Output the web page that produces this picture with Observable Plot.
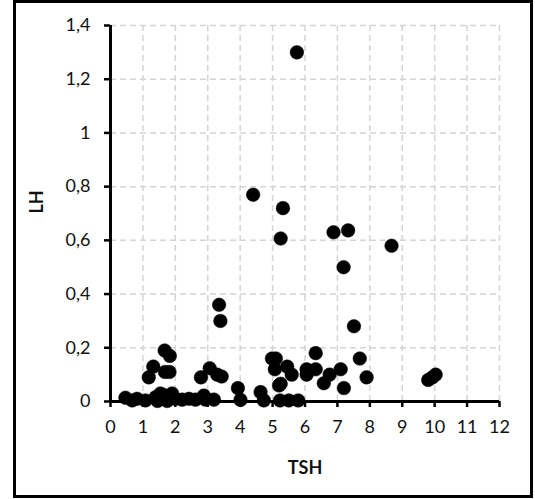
<!DOCTYPE html>
<html>
<head>
<meta charset="utf-8">
<script src="https://cdn.jsdelivr.net/npm/d3@7"></script>
<script src="https://cdn.jsdelivr.net/npm/@observablehq/plot@0.6"></script>
<style>
  html, body { margin: 0; padding: 0; background: #fff; }
  #wrap { position: relative; width: 535px; height: 499px; overflow: hidden; }
  #wrap svg { position: absolute; left: 0; top: 0; }
  #border { position: absolute; left: 13px; top: 0px; width: 514px; height: 492px; border: 3px solid #000; pointer-events: none; }
</style>
</head>
<body>
<div id="wrap"><div id="border"></div></div>
<script>
const tsh = [
  0.46, 0.67, 0.82, 1.08, 1.39, 1.54, 1.70, 1.62, 1.90, 2.00, 2.21, 2.42, 2.62, 2.88, 2.93, 3.19, 1.45, 1.75,
  1.18, 1.32, 1.68, 1.82, 1.67, 1.83, 2.79, 3.06, 3.29, 3.43, 3.35, 3.39,
  3.93, 4.01, 4.63, 4.73, 5.23, 5.50, 5.79,
  4.98, 5.10, 5.07, 5.25, 5.20, 5.45, 5.59, 6.05, 6.05, 6.33, 6.33, 6.58, 6.76, 7.10, 7.20, 7.51, 7.69, 7.90, 9.80, 9.93, 10.03,
  5.75, 4.40, 5.32, 5.25, 6.88, 7.33, 8.67, 7.19
];
const lh = [
  0.014, 0.004, 0.010, 0.004, 0.016, 0.030, 0.012, 0.025, 0.030, 0.010, 0.007, 0.010, 0.007, 0.022, 0.007, 0.007, 0.002, 0.002,
  0.09, 0.13, 0.11, 0.11, 0.19, 0.17, 0.09, 0.124, 0.10, 0.093, 0.36, 0.30,
  0.05, 0.006, 0.035, 0.004, 0.004, 0.004, 0.004,
  0.16, 0.16, 0.12, 0.066, 0.06, 0.13, 0.10, 0.12, 0.10, 0.12, 0.18, 0.068, 0.10, 0.12, 0.05, 0.28, 0.16, 0.09, 0.08, 0.09, 0.10,
  1.30, 0.77, 0.72, 0.607, 0.63, 0.637, 0.58, 0.50
];
const xTicks = [0, 1, 2, 3, 4, 5, 6, 7, 8, 9, 10, 11, 12];
const yTicks = [0, 0.2, 0.4, 0.6, 0.8, 1, 1.2, 1.4];
const yTickLabels = ["0", "0,2", "0,4", "0,6", "0,8", "1", "1,2", "1,4"];
const xTitle = "TSH";
const yTitle = "LH";

const points = tsh.map((x, i) => ({x, y: lh[i]}));
const yLabel = new Map(yTicks.map((t, i) => [t, yTickLabels[i]]));

const chart = Plot.plot({
  width: 535,
  height: 499,
  marginLeft: 110,
  marginRight: 36,
  marginTop: 25,
  marginBottom: 98,
  style: {fontFamily: "Lato, 'Open Sans', sans-serif", fontSize: "18px", color: "#000", background: "transparent"},
  x: {domain: [0, 12]},
  y: {domain: [0, 1.4]},
  marks: [
    Plot.gridX(xTicks.slice(1), {stroke: "#d4d4d4", strokeOpacity: 1, strokeWidth: 1.5, strokeDasharray: "6,4"}),
    Plot.gridY(yTicks.slice(1), {stroke: "#d4d4d4", strokeOpacity: 1, strokeWidth: 1.5, strokeDasharray: "6,4"}),
    Plot.axisX(xTicks, {tickSize: 6, tickPadding: 13, strokeWidth: 2.5, fontSize: 18, fill: "#111", tickFormat: d => String(d), label: null}),
    Plot.axisY(yTicks, {tickSize: 6, tickPadding: 14, strokeWidth: 2.5, fontSize: 18, fill: "#111", tickFormat: d => yLabel.get(d), label: null}),
    Plot.ruleX([0], {stroke: "#000", strokeWidth: 3}),
    Plot.ruleY([0], {x1: 0, x2: 12, stroke: "#000", strokeWidth: 3}),
    Plot.dot(points, {x: "x", y: "y", r: 6.8, fill: "#000", stroke: "#000", strokeWidth: 0.5}),
    Plot.text([xTitle], {frameAnchor: "bottom", dy: 72, fontWeight: "bold", fontSize: 18, fill: "#111"}),
    Plot.text([yTitle], {frameAnchor: "left", dx: -73, rotate: -90, fontWeight: "bold", fontSize: 18, fill: "#111"})
  ]
});
document.getElementById("wrap").prepend(chart);
</script>
</body>
</html>
